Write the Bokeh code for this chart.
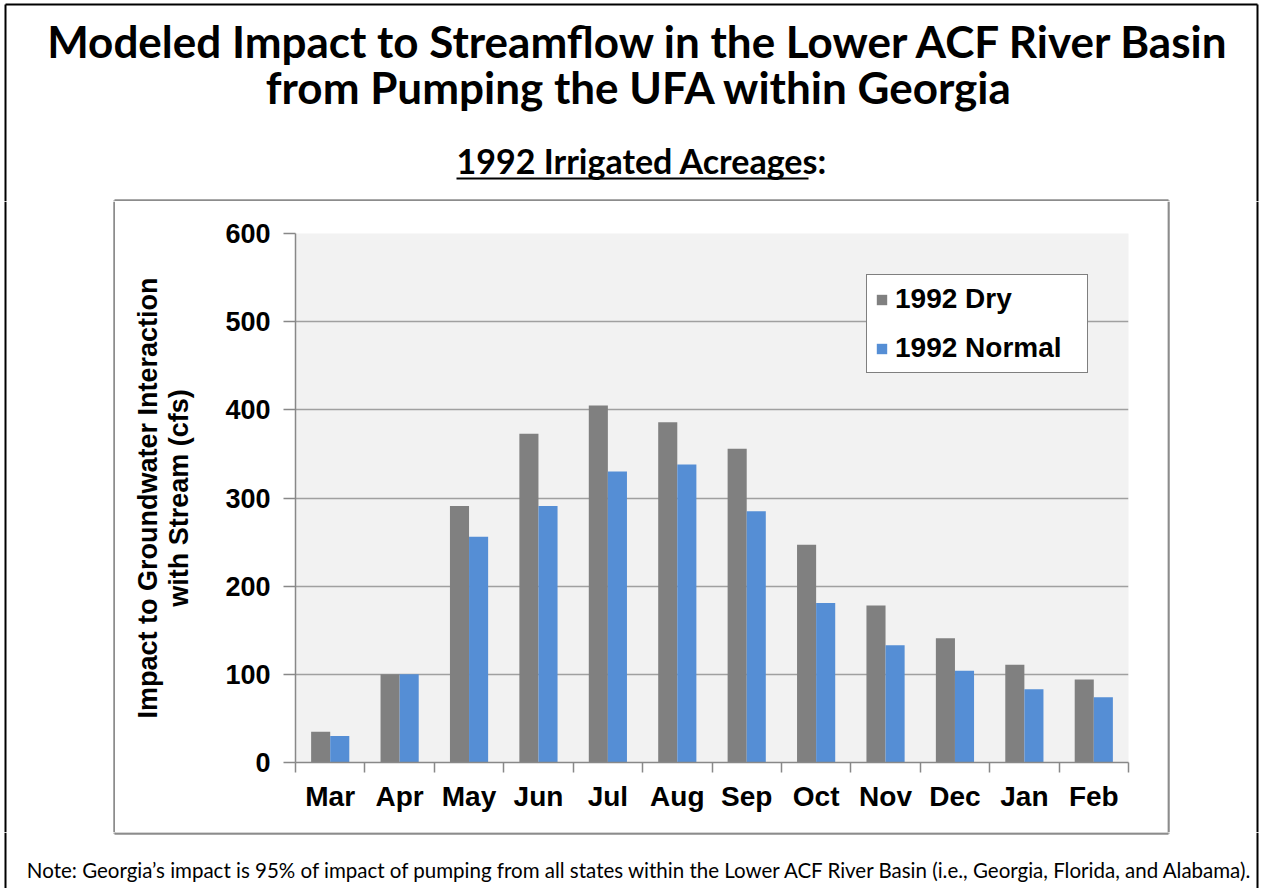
from bokeh.plotting import figure
from bokeh.layouts import column, row
from bokeh.models import ColumnDataSource, Range1d, FixedTicker, Legend, LegendItem
from bokeh.core.properties import value
from bokeh.transform import dodge
from bokeh.embed import file_html
from bokeh.resources import INLINE

# ---- data ----
months = ["Mar", "Apr", "May", "Jun", "Jul", "Aug", "Sep", "Oct", "Nov", "Dec", "Jan", "Feb"]
dry_1992 = [35, 100, 291, 373, 405, 386, 356, 247, 178, 141, 111, 94]
normal_1992 = [30, 100, 256, 291, 330, 338, 285, 181, 133, 104, 83, 74]
y_ticks = [0, 100, 200, 300, 400, 500, 600]
series_names = ["1992 Dry", "1992 Normal"]
series_colors = ["#808080", "#558ED5"]

title_lines = ["Modeled Impact to Streamflow in the Lower ACF River Basin",
               "from Pumping the UFA within Georgia"]
subtitle = "1992 Irrigated Acreages:"
y_label = "Impact to Groundwater Interaction\nwith Stream (cfs)"
note = ("Note: Georgia\u2019s impact is 95% of impact of pumping from all states within the "
        "Lower ACF River Basin (i.e., Georgia, Florida, and Alabama).")

# ---- layout (page pixels) ----
TOTAL_W, TOTAL_H = 1260, 888
TOP_H = 201            # title band
MID_H = 631            # chart band
BOT_H = TOTAL_H - TOP_H - MID_H
LEFT_W = 115
CHART_W = 1052
RIGHT_W = TOTAL_W - LEFT_W - CHART_W
OUTER = "black"
INNER = "#8c8c8c"


def no_align(f):
    try:
        f.frame_align = False
    except Exception:
        pass


def deco(w, h):
    f = figure(width=w, height=h, x_range=Range1d(0, w), y_range=Range1d(h, 0),
               output_backend="svg", toolbar_location=None,
               min_border=0, outline_line_color=None, background_fill_color="white",
               border_fill_color="white")
    f.axis.visible = False
    f.grid.visible = False
    no_align(f)
    return f


# ---- top band: titles ----
top = deco(TOTAL_W, TOP_H)
top.text(x=[639, 639], y=[40, 86], text=title_lines, text_font=value("Lato"),
         text_font_style="bold", text_font_size="44px", text_align="center",
         text_baseline="middle", text_color="black")
top.text(x=[456], y=[160], text=[subtitle], text_font=value("Lato"),
         text_font_style="bold", text_font_size="34px", text_align="left",
         text_baseline="middle", text_color="black")
top.segment(x0=[456], y0=[178], x1=[808], y1=[178], line_color="black", line_width=2)
# outer border (left, top, right)
top.segment(x0=[5, 5, 1257], y0=[4, 4, 4], x1=[5, 1257, 1257], y1=[TOP_H, 4, TOP_H],
            line_color=OUTER, line_width=2)
# inner box top edge
top.segment(x0=[114, 114, 1168], y0=[200, 200, 200], x1=[1168, 114, 1168], y1=[200, TOP_H, TOP_H],
            line_color=INNER, line_width=2.5)

# ---- left / right bands ----
left = deco(LEFT_W, MID_H)
left.segment(x0=[5, 114], y0=[0, 0], x1=[5, 114], y1=[MID_H, MID_H],
             line_color=[OUTER, INNER], line_width=[2, 2.5])
right = deco(RIGHT_W, MID_H)
rx_inner = 1168 - (LEFT_W + CHART_W)
rx_outer = 1257 - (LEFT_W + CHART_W)
right.segment(x0=[rx_inner, rx_outer], y0=[0, 0], x1=[rx_inner, rx_outer], y1=[MID_H, MID_H],
              line_color=[INNER, OUTER], line_width=[2.5, 2])

# ---- bottom band: note ----
bot = deco(TOTAL_W, BOT_H)
bot.segment(x0=[114, 114, 1168], y0=[1, 0, 0], x1=[1168, 114, 1168], y1=[1, 1, 1],
            line_color=INNER, line_width=2.5)
bot.segment(x0=[5, 1257], y0=[0, 0], x1=[5, 1257], y1=[BOT_H, BOT_H],
            line_color=OUTER, line_width=2)
bot.text(x=[640], y=[37], text=[note], text_font=value("Lato"),
         text_font_size="20.5px", text_align="center", text_baseline="middle",
         text_color="black")

# ---- chart ----
FL, FR, FT, FB = 295, 1128, 233, 762   # plot area in page pixels
src = ColumnDataSource(dict(x=[i + 0.5 for i in range(len(months))],
                            dry=dry_1992, normal=normal_1992))

p = figure(width=CHART_W, height=MID_H,
           x_range=Range1d(0, len(months)), y_range=Range1d(0, y_ticks[-1]),
           output_backend="svg", toolbar_location=None,
           min_border_left=FL - LEFT_W, min_border_right=LEFT_W + CHART_W - FR,
           min_border_top=FT - TOP_H, min_border_bottom=TOP_H + MID_H - FB,
           background_fill_color="#f2f2f2", border_fill_color="white",
           outline_line_color=None)
no_align(p)

bw = 0.275
r1 = p.vbar(x=dodge("x", -bw / 2, range=p.x_range), top="dry", width=bw, source=src,
            fill_color=series_colors[0], line_color=None)
r2 = p.vbar(x=dodge("x", bw / 2, range=p.x_range), top="normal", width=bw, source=src,
            fill_color=series_colors[1], line_color=None)

p.xgrid.grid_line_color = None
p.ygrid.grid_line_color = "#a0a0a0"
p.ygrid.grid_line_width = 1.5
p.ygrid.ticker = FixedTicker(ticks=y_ticks)

ya = p.yaxis[0]
ya.ticker = FixedTicker(ticks=y_ticks)
ya.axis_line_color = "#888888"
ya.axis_line_width = 1.5
ya.major_tick_line_color = "#888888"
ya.major_tick_line_width = 1.5
ya.major_tick_out = 12
ya.major_tick_in = 0
ya.minor_tick_line_color = None
ya.major_label_text_font = "Liberation Sans"
ya.major_label_text_font_style = "bold"
ya.major_label_text_font_size = "27px"
ya.major_label_text_color = "black"
ya.major_label_standoff = 13
ya.axis_label = y_label
ya.axis_label_text_font = "Liberation Sans"
ya.axis_label_text_font_style = "bold"
ya.axis_label_text_font_size = "27px"
ya.axis_label_text_color = "black"
ya.axis_label_text_line_height = 1.05
ya.axis_label_standoff = 28

xa = p.xaxis[0]
xa.ticker = FixedTicker(ticks=[i + 0.5 for i in range(len(months))],
                        minor_ticks=list(range(len(months) + 1)))
xa.major_label_overrides = {i + 0.5: m for i, m in enumerate(months)}
xa.axis_line_color = "#888888"
xa.axis_line_width = 1.5
xa.major_tick_line_color = None
xa.major_tick_out = 10
xa.major_tick_in = 0
xa.minor_tick_line_color = "#888888"
xa.minor_tick_line_width = 1.5
xa.minor_tick_out = 10
xa.minor_tick_in = 0
xa.major_label_text_font = "Liberation Sans"
xa.major_label_text_font_style = "bold"
xa.major_label_text_font_size = "28px"
xa.major_label_text_color = "black"
xa.major_label_standoff = 8

legend = Legend(items=[LegendItem(label=series_names[0], renderers=[r1]),
                       LegendItem(label=series_names[1], renderers=[r2])],
                location=(571, 389), orientation="vertical",
                border_line_color="black", border_line_width=1.5,
                background_fill_color="white", background_fill_alpha=1.0,
                padding=8, spacing=17, margin=0,
                glyph_width=13, glyph_height=13, label_standoff=7,
                label_width=184, label_height=26,
                label_text_font="Liberation Sans", label_text_font_style="bold",
                label_text_font_size="28px", label_text_color="black")
p.add_layout(legend)

layout = column(top, row(left, p, right, spacing=0), bot, spacing=0)
open("out.html", "w").write(file_html(layout, INLINE))
